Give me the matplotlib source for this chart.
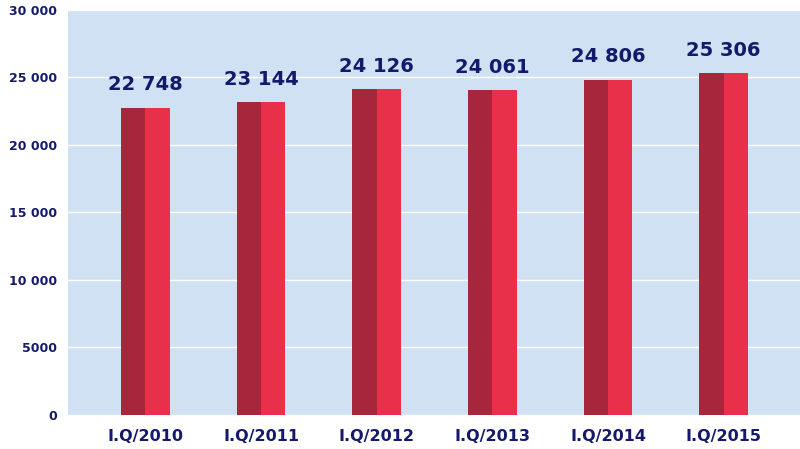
import matplotlib.pyplot as plt
import numpy as np

categories = ["I.Q/2010", "I.Q/2011", "I.Q/2012", "I.Q/2013", "I.Q/2014", "I.Q/2015"]
values = [22748, 23144, 24126, 24061, 24806, 25306]
ytick_vals = [0, 5000, 10000, 15000, 20000, 25000, 30000]
ytick_labels = ["0", "5000", "10 000", "15 000", "20 000", "25 000", "30 000"]

navy = "#14196b"
fig = plt.figure(figsize=(8, 4.49), dpi=100)
ax = fig.add_axes([0.085, 0.076, 0.915, 0.902])
ax.set_facecolor("#cfe1f3")

x = np.arange(len(categories))
w = 0.21
ax.bar(x - w / 2, values, width=w, color="#a8263b", zorder=3)
ax.bar(x + w / 2, values, width=w, color="#e8304b", zorder=3)
for xi, v in zip(x, values):
    ax.text(xi, v + 1000, f"{v:,}".replace(",", " "), ha="center", va="bottom",
            fontsize=14, fontweight="bold", color=navy)

ax.set_xlim(-0.67, 5.66)
ax.set_ylim(0, 30000)
ax.set_yticks(ytick_vals)
ax.set_yticklabels(ytick_labels)
ax.set_xticks(x)
ax.set_xticklabels(categories)
ax.grid(axis="y", color="white", linewidth=1, zorder=0)
for s in ax.spines.values():
    s.set_visible(False)
ax.tick_params(length=0)
for lab in ax.get_yticklabels():
    lab.set_fontsize(9); lab.set_fontweight("bold"); lab.set_color(navy)
for lab in ax.get_xticklabels():
    lab.set_fontsize(11.5); lab.set_fontweight("bold"); lab.set_color(navy)
ax.tick_params(axis="x", pad=10)
ax.tick_params(axis="y", pad=8)

fig.savefig("out.png", dpi=100)
